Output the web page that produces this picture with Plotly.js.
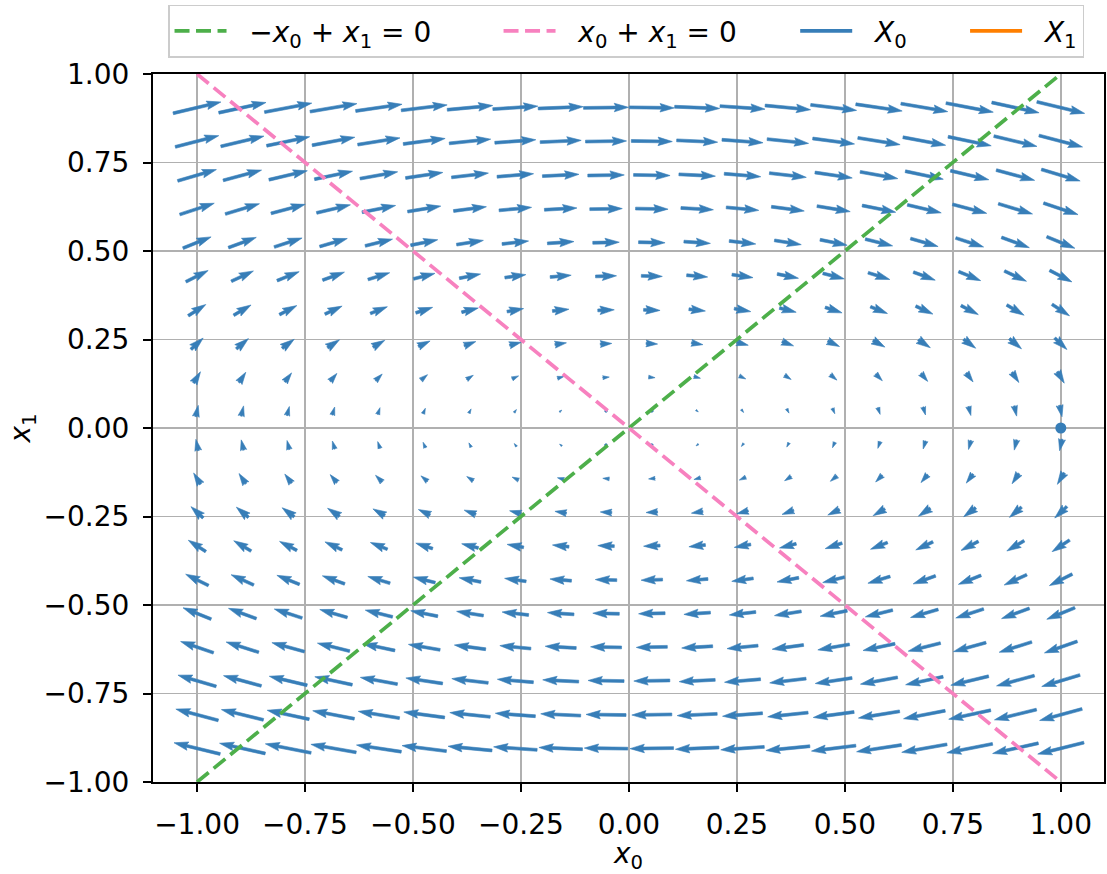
<!DOCTYPE html>
<html>
<head>
<meta charset="utf-8">
<script src="https://cdn.plot.ly/plotly-3.0.1.min.js"></script>
<style>html,body{margin:0;padding:0;background:#fff;}</style>
</head>
<body>
<div id="chart" style="width:1107px;height:874px;"></div>
<script>
// ---------- data ----------
// arrow grid: columns (x0) and rows (x1)
const x0Grid = [-1.000, -0.895, -0.789, -0.684, -0.579, -0.474, -0.368, -0.263, -0.158, -0.053,
                 0.053,  0.158,  0.263,  0.368,  0.474,  0.579,  0.684,  0.789,  0.895,  1.000];
const x1Grid = [-0.905, -0.810, -0.714, -0.619, -0.524, -0.429, -0.333, -0.238, -0.143, -0.048,
                 0.048,  0.143,  0.238,  0.333,  0.429,  0.524,  0.619,  0.714,  0.810,  0.905];
// horizontal field component per row (bottom -> top)
const uRow = [-0.87, -0.80, -0.72, -0.62, -0.53, -0.43, -0.33, -0.23, -0.13, -0.045,
               0.045,  0.13,  0.23,  0.33,  0.42,  0.53,  0.65,  0.73,  0.82,  0.90];
// slight growth of the horizontal component towards the left/right edges, per column
const uColFactor = [1.06, 1.05, 1.05, 1.04, 1.03, 1.02, 1.01, 1.00, 1.00, 1.00,
                    1.00, 1.00, 1.00, 1.01, 1.02, 1.03, 1.04, 1.05, 1.05, 1.06];
// vertical field component per column (left -> right)
const vCol = [ 0.225,  0.205,  0.18,  0.16,  0.135,  0.11,  0.085,  0.06,  0.036,  0.012,
              -0.012, -0.036, -0.06, -0.085, -0.11, -0.135, -0.16, -0.18, -0.205, -0.23];
// reference lines
const lineX = [-1, 1];
const greenLineY = [-1, 1];   // -x0 + x1 = 0
const pinkLineY = [1, -1];    //  x0 + x1 = 0
// marked point
const pointX = [1];
const pointY = [0];
// legend labels
const legendNames = [
  '\u2212<i>x</i><sub>0</sub> + <i>x</i><sub>1</sub> = 0',
  '<i>x</i><sub>0</sub> + <i>x</i><sub>1</sub> = 0',
  '<i>X</i><sub>0</sub>',
  '<i>X</i><sub>1</sub>'
];

// ---------- styles / geometry ----------
const W = 1107, H = 874;
const M = {l: 153, r: 3, t: 74, b: 92, pad: 0};
const xRange = [-1.102, 1.100];
const yRange = [-1.0, 1.0];
const pxPerX = (W - M.l - M.r) / (xRange[1] - xRange[0]);
const pxPerY = (H - M.t - M.b) / (yRange[1] - yRange[0]);
const quiverScale = 50;     // px per field unit
const shaftW = 2.86;        // px (matplotlib default 0.06*span/sqrt(N))
const headWidth = 3, headLength = 5, headAxisLength = 4.5, minShaft = 1, minLength = 1;
const BLUE = '#377eb8', ORANGE = '#ff7f00', GREEN = '#4daf4a', PINK = '#f781bf';
const FONT = 'DejaVu Sans, Liberation Sans, sans-serif';
const FS = 28;
const pad = n => '\u00a0'.repeat(n);

// matplotlib-like arrow polygon, in shaft-width units, along +x, pivot middle
function arrowShape(L) {
  let X, Y;
  if (L < minLength) {
    X = []; Y = [];
    for (let k = 0; k < 8; k++) {
      const th = k * Math.PI / 3;
      X.push(Math.cos(th) * minLength * 0.5);
      Y.push(Math.sin(th) * minLength * 0.5);
    }
    return {X, Y};
  }
  const minsh = minShaft * headLength;
  let x, y;
  if (L >= minsh) {
    x = [0, L - headAxisLength, L - headLength, L];
    y = [0.5, 0.5, 0.5 * headWidth, 0];
  } else {
    const s = L / minsh;
    x = [0, minsh - headAxisLength, minsh - headLength, minsh].map(v => v * s);
    y = [0.5, 0.5, 0.5 * headWidth, 0].map(v => v * s);
  }
  const ii = [0, 1, 2, 3, 2, 1, 0, 0];
  X = ii.map(i => x[i]);
  Y = ii.map(i => y[i]);
  for (let k = 3; k < 7; k++) Y[k] *= -1;
  const half = X[3] / 2;
  X = X.map(v => v - half);
  return {X, Y};
}

const qx = [], qy = [];
for (let r = 0; r < x1Grid.length; r++) {
  for (let c = 0; c < x0Grid.length; c++) {
    const u = uRow[r] * uColFactor[c];
    const v = vCol[c];
    const Lpx = quiverScale * Math.hypot(u, v);
    const ang = Math.atan2(v, u);
    const shp = arrowShape(Lpx / shaftW);
    const ca = Math.cos(ang), sa = Math.sin(ang);
    for (let k = 0; k < shp.X.length; k++) {
      const px = (shp.X[k] * ca - shp.Y[k] * sa) * shaftW;
      const py = (shp.X[k] * sa + shp.Y[k] * ca) * shaftW;
      qx.push(x0Grid[c] + px / pxPerX);
      qy.push(x1Grid[r] + py / pxPerY);
    }
    qx.push(null); qy.push(null);
  }
}

const traces = [
  {
    type: 'scatter', mode: 'lines', x: qx, y: qy,
    fill: 'toself', fillcolor: BLUE,
    line: {color: BLUE, width: 0.6},
    showlegend: false, hoverinfo: 'skip'
  },
  {
    type: 'scatter', mode: 'lines', x: lineX, y: greenLineY,
    name: pad(2) + legendNames[0] + pad(7),
    line: {color: GREEN, width: 3.7, dash: '15px,6.5px'}
  },
  {
    type: 'scatter', mode: 'lines', x: lineX, y: pinkLineY,
    name: pad(2) + legendNames[1] + pad(6),
    line: {color: PINK, width: 3.7, dash: '15px,6.5px'}
  },
  {
    type: 'scatter', mode: 'lines', x: pointX, y: pointY,
    name: pad(2) + legendNames[2] + pad(6),
    line: {color: BLUE, width: 3.7}
  },
  {
    type: 'scatter', mode: 'lines', x: pointX, y: pointY,
    name: pad(2) + legendNames[3],
    line: {color: ORANGE, width: 3.7}
  },
  {
    type: 'scatter', mode: 'markers', x: pointX, y: pointY,
    marker: {color: BLUE, size: 11},
    showlegend: false, hoverinfo: 'skip', cliponaxis: false
  }
];

const tickVals = [-1, -0.75, -0.5, -0.25, 0, 0.25, 0.5, 0.75, 1];
const tickText = ['\u22121.00', '\u22120.75', '\u22120.50', '\u22120.25', '0.00', '0.25', '0.50', '0.75', '1.00'];

const axisCommon = {
  showline: true, mirror: true, linecolor: '#000', linewidth: 2,
  ticks: 'outside', ticklen: 8, tickwidth: 2, tickcolor: '#000',
  showgrid: true, gridcolor: '#b0b0b0', gridwidth: 1.7,
  zeroline: false,
  tickfont: {family: FONT, size: FS, color: '#000'},
  ticklabelstandoff: 8,
  tickvals: tickVals, ticktext: tickText
};

const layout = {
  width: W, height: H,
  margin: M,
  paper_bgcolor: '#fff', plot_bgcolor: '#fff',
  font: {family: FONT, color: '#000'},
  xaxis: Object.assign({}, axisCommon, {
    range: xRange,
    title: {text: '<i>x</i><sub>0</sub>', font: {family: FONT, size: FS, color: '#000'}, standoff: 6}
  }),
  yaxis: Object.assign({}, axisCommon, {
    range: yRange,
    title: {text: '<i>x</i><sub>1</sub>', font: {family: FONT, size: FS, color: '#000'}, standoff: 5}
  }),
  showlegend: true,
  legend: {
    orientation: 'h', x: 0.4974, xanchor: 'center', y: 1.098, yanchor: 'top',
    bordercolor: '#cccccc', borderwidth: 1.5, bgcolor: '#fff',
    font: {family: FONT, size: FS, color: '#000'},
    itemwidth: 52
  }
};

Plotly.newPlot('chart', traces, layout, {staticPlot: true, displayModeBar: false});
</script>
</body>
</html>
